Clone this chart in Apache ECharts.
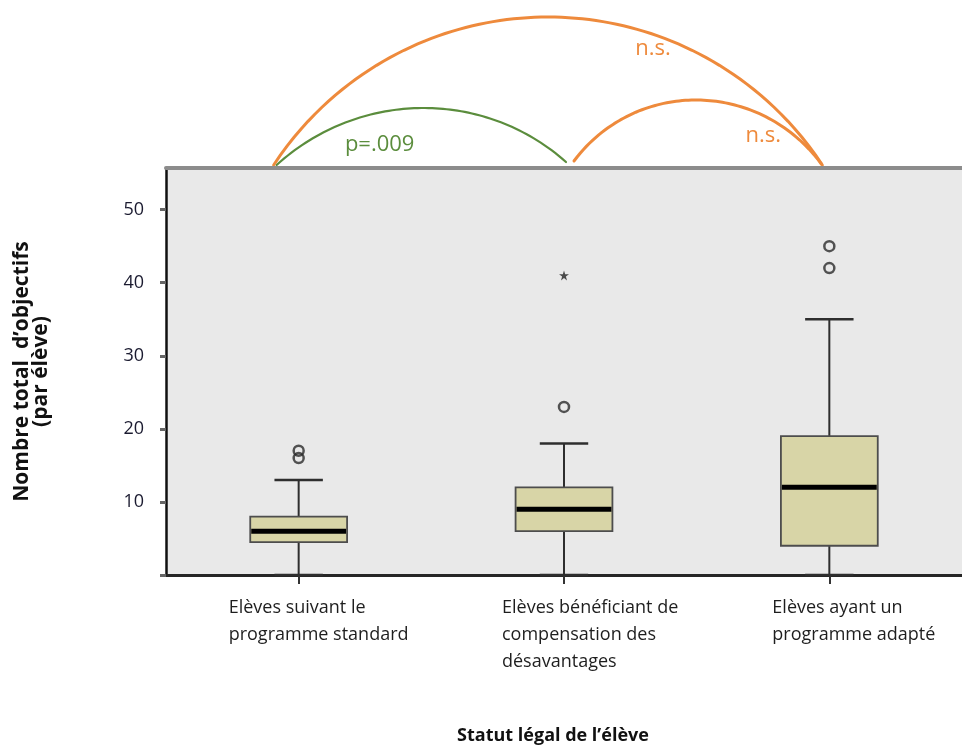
<!DOCTYPE html>
<html>
<head>
<meta charset="utf-8">
<script src="https://cdn.jsdelivr.net/npm/echarts@6/dist/echarts.min.js"></script>
<style>
  html, body { margin: 0; padding: 0; background: #ffffff; }
  #chart { width: 962px; height: 747px; }
</style>
</head>
<body>
<div id="chart"></div>
<script>
// Groups compared (student legal status)
const categories = [
  'Elèves suivant le\nprogramme standard',
  'Elèves bénéficiant de\ncompensation des\ndésavantages',
  'Elèves ayant un\nprogramme adapté'
];

// Five-number summaries per group (total number of objectives per student)
const whiskerLow  = [0, 0, 0];
const quartile1   = [4.5, 6, 4];
const medians     = [6, 9, 12];
const quartile3   = [8, 12, 19];
const whiskerHigh = [13, 18, 35];

// Outliers: [group index, value]
const outliers        = [[0, 16], [0, 17], [1, 23], [2, 42], [2, 45]];
const extremeOutliers = [[1, 41]];

// Value-axis ticks and labels
const yTickValues  = [0, 10, 20, 30, 40, 50];
const yLabelValues = [10, 20, 30, 40, 50];

// Pairwise comparison annotations
const comparisons = [
  { from: 0, to: 2, text: 'n.s.',   color: '#ee8a3c' },
  { from: 0, to: 1, text: 'p=.009', color: '#5b8d3d' },
  { from: 1, to: 2, text: 'n.s.',   color: '#ee8a3c' }
];

const FONT = '"Open Sans", "Liberation Sans", sans-serif';

const boxData = categories.map((c, i) => [
  i, whiskerLow[i], quartile1[i], medians[i], quartile3[i], whiskerHigh[i]
]);

const chart = echarts.init(document.getElementById('chart'), null, { renderer: 'canvas' });

const option = {
  animation: false,
  backgroundColor: '#ffffff',
  grid: {
    left: 166, top: 168, width: 806, height: 407,
    show: true, backgroundColor: '#e9e9e9', borderWidth: 0
  },
  xAxis: [
    {
      type: 'category',
      data: categories,
      position: 'bottom',
      axisLine: { show: true, lineStyle: { color: '#262626', width: 3 } },
      axisTick: { show: true, alignWithLabel: true, length: 9, lineStyle: { color: '#333', width: 2 } },
      axisLabel: { show: false },
      splitLine: { show: false }
    },
    {
      type: 'category',
      data: categories,
      position: 'top',
      axisLine: { show: true, lineStyle: { color: '#8c8c8c', width: 4 } },
      axisTick: { show: false },
      axisLabel: { show: false },
      splitLine: { show: false }
    }
  ],
  yAxis: {
    type: 'value',
    min: 0,
    max: 55.7,
    interval: 10,
    name: "Nombre total  d\u2019objectifs\n(par élève)",
    nameLocation: 'middle',
    nameGap: 115,
    nameTextStyle: {
      fontFamily: FONT, fontWeight: 'bold', fontSize: 21, lineHeight: 19, color: '#111'
    },
    axisLine: { show: true, lineStyle: { color: '#111', width: 2.5 } },
    axisTick: { show: true, length: 6, lineStyle: { color: '#666', width: 3 }, customValues: yTickValues },
    axisLabel: {
      customValues: yLabelValues,
      fontFamily: FONT, fontSize: 18, color: '#1b1b30', margin: 22
    },
    splitLine: { show: false }
  },
  series: [
    {
      type: 'custom',
      name: 'boxes',
      xAxisIndex: 0,
      data: boxData,
      encode: { x: 0, y: [1, 2, 3, 4, 5] },
      renderItem: function (params, api) {
        const i = api.value(0);
        const x = api.coord([i, 0])[0];
        const band = api.size([1, 0])[0];
        const bw = band * 0.365;
        const capW = bw * 0.5;
        const yLo = api.coord([i, api.value(1)])[1];
        const yQ1 = api.coord([i, api.value(2)])[1];
        const yMed = api.coord([i, api.value(3)])[1];
        const yQ3 = api.coord([i, api.value(4)])[1];
        const yHi = api.coord([i, api.value(5)])[1];
        const whisker = { stroke: '#2e2e2e', lineWidth: 2 };
        return {
          type: 'group',
          children: [
            { type: 'line', shape: { x1: x, y1: yHi, x2: x, y2: yQ3 }, style: whisker },
            { type: 'line', shape: { x1: x, y1: yQ1, x2: x, y2: yLo }, style: whisker },
            { type: 'line', shape: { x1: x - capW / 2, y1: yHi, x2: x + capW / 2, y2: yHi }, style: { stroke: '#2e2e2e', lineWidth: 2.5 } },
            { type: 'line', shape: { x1: x - capW / 2, y1: yLo, x2: x + capW / 2, y2: yLo }, style: { stroke: '#2e2e2e', lineWidth: 2.5 } },
            {
              type: 'rect',
              shape: { x: x - bw / 2, y: yQ3, width: bw, height: yQ1 - yQ3 },
              style: { fill: '#d8d5a7', stroke: '#4d4d4d', lineWidth: 1.8 }
            },
            { type: 'line', shape: { x1: x - bw / 2 + 1, y1: yMed, x2: x + bw / 2 - 1, y2: yMed }, style: { stroke: '#000', lineWidth: 5 } }
          ]
        };
      },
      z: 3
    },
    {
      type: 'scatter',
      name: 'outliers',
      xAxisIndex: 0,
      data: outliers,
      symbol: 'circle',
      symbolSize: 10,
      itemStyle: { color: 'rgba(0,0,0,0)', borderColor: '#2a2a2a', borderWidth: 2.5 },
      z: 4
    },
    {
      type: 'scatter',
      name: 'extremes',
      xAxisIndex: 0,
      data: extremeOutliers,
      symbol: 'path://M50,0 L61,35 L98,35 L68,57 L79,92 L50,70 L21,92 L32,57 L2,35 L39,35 Z',
      symbolSize: 10,
      itemStyle: { color: '#222' },
      z: 4
    }
  ]
};

chart.setOption(option);

// Positions of the group centres on the category axis
const cx = categories.map((c, i) => chart.convertToPixel({ xAxisIndex: 0 }, i));
const plotTop = chart.convertToPixel({ yAxisIndex: 0 }, 55.7);

// Circular arc through two end points with a given apex height
function arcPoints(x0, y0, x1, y1, peakY) {
  const mid = (x0 + x1) / 2;
  const half = (x1 - x0) / 2;
  const base = (y0 + y1) / 2;
  const s = base - peakY;
  const r = (half * half + s * s) / (2 * s);
  const cy = peakY + r;
  const pts = [];
  const n = 80;
  for (let k = 0; k <= n; k++) {
    const t = k / n;
    const x = x0 + (x1 - x0) * t;
    const dx = x - mid;
    const y = cy - Math.sqrt(Math.max(0, r * r - dx * dx)) + (y0 - base) * (1 - t) + (y1 - base) * t;
    pts.push([x, y]);
  }
  return pts;
}

const graphics = [];

// comparison arcs and their labels
const arcGeom = [
  { x0: cx[0] - 25, y0: plotTop - 3, x1: cx[2] - 7, y1: plotTop - 3, peak: 17,  w: 3,   tx: cx[1] + 89, ty: 49 },
  { x0: cx[0] - 22, y0: plotTop - 3, x1: cx[1] + 2, y1: plotTop - 6, peak: 108, w: 2.2, tx: cx[0] + 81, ty: 145 },
  { x0: cx[1] + 10, y0: plotTop - 7, x1: cx[2] - 8, y1: plotTop - 4, peak: 100, w: 3,   tx: cx[2] - 66, ty: 136 }
];
comparisons.forEach((cmp, k) => {
  const g = arcGeom[k];
  graphics.push({
    type: 'polyline',
    shape: { points: arcPoints(g.x0, g.y0, g.x1, g.y1, g.peak) },
    style: { stroke: cmp.color, lineWidth: g.w, fill: null, lineCap: 'round', lineJoin: 'round' },
    silent: true
  });
  graphics.push({
    type: 'text',
    x: g.tx, y: g.ty,
    style: {
      text: cmp.text, fill: cmp.color,
      font: '22px ' + FONT,
      textAlign: 'center', textVerticalAlign: 'middle'
    },
    silent: true
  });
});

// category labels, left-aligned blocks under each group
const labelOffsets = [-70, -62, -57];
categories.forEach((c, i) => {
  graphics.push({
    type: 'text',
    x: cx[i] + labelOffsets[i],
    y: 594,
    style: {
      text: c, fill: '#1e1e1e',
      font: '18px ' + FONT,
      lineHeight: 27,
      textAlign: 'left', textVerticalAlign: 'top'
    },
    silent: true
  });
});

// axis title under the category labels
graphics.push({
  type: 'text',
  x: 553, y: 736,
  style: {
    text: 'Statut légal de l\u2019élève', fill: '#111',
    font: 'bold 18px ' + FONT,
    textAlign: 'center', textVerticalAlign: 'middle'
  },
  silent: true
});

chart.setOption({ graphic: graphics });
</script>
</body>
</html>
